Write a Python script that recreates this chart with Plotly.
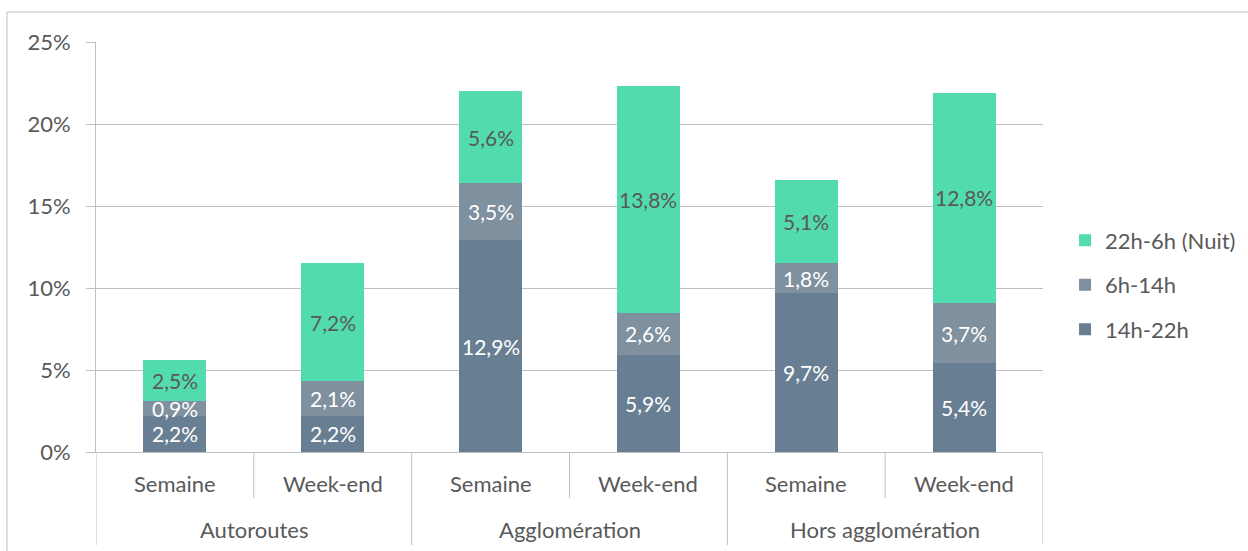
import plotly.graph_objects as go

groups = ["Autoroutes", "Agglomération", "Hors agglomération"]
periods = ["Semaine", "Week-end"]
series_names = ["14h-22h", "6h-14h", "22h-6h (Nuit)"]
v_14_22 = [2.2, 2.2, 12.9, 5.9, 9.7, 5.4]
v_6_14 = [0.9, 2.1, 3.5, 2.6, 1.8, 3.7]
v_nuit = [2.5, 7.2, 5.6, 13.8, 5.1, 12.8]
y_ticks = [0, 5, 10, 15, 20, 25]
y_tick_labels = ["0%", "5%", "10%", "15%", "20%", "25%"]

colors = ["#687F93", "#7F909F", "#52DBAF"]
label_colors = ["#FFFFFF", "#FFFFFF", "#595959"]
FONT = "Lato"
GREY = "#595959"
LINE = "#BFBFBF"

xs = list(range(len(groups) * len(periods)))
all_series = [v_14_22, v_6_14, v_nuit]

fig = go.Figure()
for i, (name, vals) in enumerate(zip(series_names, all_series)):
    fig.add_trace(go.Bar(
        x=xs, y=vals, name=name, marker=dict(color=colors[i], line=dict(width=0)),
        width=0.4, legendgroup=name, legendrank=3 - i, hoverinfo="skip",
    ))

annotations = []
# segment labels
base = [0.0] * len(xs)
for i, vals in enumerate(all_series):
    for j, v in enumerate(vals):
        annotations.append(dict(
            x=xs[j], y=base[j] + v / 2, xref="x", yref="y",
            text=(f"{v:.1f}%").replace(".", ","), showarrow=False,
            font=dict(family=FONT, size=21, color=label_colors[i]),
        ))
        base[j] += v

# category labels
for g, gname in enumerate(groups):
    for p, pname in enumerate(periods):
        annotations.append(dict(
            x=g * 2 + p, y=-0.078, xref="x", yref="paper", text=pname,
            showarrow=False, font=dict(family=FONT, size=22, color=GREY),
            yanchor="middle",
        ))
    annotations.append(dict(
        x=g * 2 + 0.5, y=-0.188, xref="x", yref="paper", text=gname,
        showarrow=False, font=dict(family=FONT, size=22, color=GREY),
        yanchor="middle",
    ))

shapes = []
for g in range(len(groups)):
    shapes.append(dict(type="line", xref="x", yref="paper", x0=g * 2 + 0.5, x1=g * 2 + 0.5,
                       y0=0, y1=-0.112, line=dict(color=LINE, width=1)))
for g in range(len(groups) + 1):
    shapes.append(dict(type="line", xref="x", yref="paper", x0=g * 2 - 0.5, x1=g * 2 - 0.5,
                       y0=0, y1=-0.227, line=dict(color=LINE, width=1)))
# chart area border
shapes.append(dict(type="rect", xref="paper", yref="paper", x0=-0.094, x1=1.5,
                   y0=-0.5, y1=1.073, line=dict(color="#BFBFBF", width=1),
                   fillcolor="rgba(0,0,0,0)"))

fig.update_layout(
    barmode="stack",
    width=1248, height=551,
    margin=dict(l=96, r=205, t=42, b=99, autoexpand=False),
    paper_bgcolor="white", plot_bgcolor="white",
    font=dict(family=FONT, size=21, color=GREY),
    showlegend=True,
    legend=dict(xref="container", yref="container", x=0.8534, xanchor="left",
                y=0.483, yanchor="middle",
                traceorder="grouped", tracegroupgap=13,
                font=dict(family=FONT, size=22, color=GREY),
                bgcolor="rgba(0,0,0,0)"),
    xaxis=dict(range=[-0.5, 5.5], showticklabels=False, showgrid=False, zeroline=False,
               showline=True, linecolor=LINE, linewidth=1, ticks="", fixedrange=True),
    yaxis=dict(range=[0, 25], tickmode="array", tickvals=y_ticks, ticktext=y_tick_labels,
               showgrid=True, gridcolor=LINE, gridwidth=1, zeroline=False, showline=True,
               linecolor=LINE, linewidth=1, ticks="outside", ticklen=9,
               tickcolor=LINE, ticklabelstandoff=11, fixedrange=True,
               tickfont=dict(family=FONT, size=22, color=GREY)),
    annotations=annotations,
    shapes=shapes,
    bargap=0.6,
)

fig.write_html("out.html", config={"displayModeBar": False},
               post_script="document.body.style.margin='0';document.body.style.overflow='hidden';")
